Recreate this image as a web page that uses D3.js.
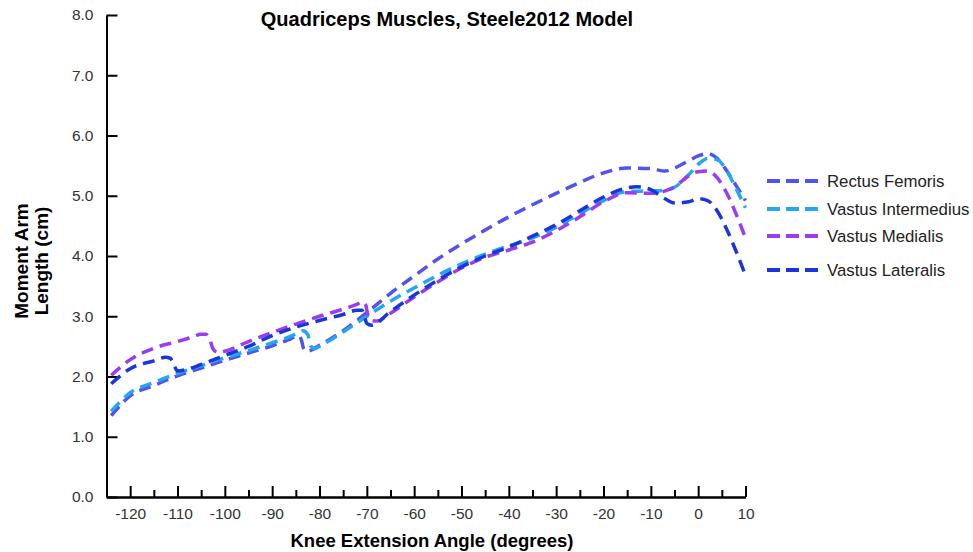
<!DOCTYPE html>
<html lang="en">
<head>
  <meta charset="UTF-8">
  <title>Quadriceps Muscles, Steele2012 Model</title>
  <script src="https://d3js.org/d3.v7.min.js"></script>
  <style>
    body { margin: 0; background: #fff; }
    svg { font-family: "Liberation Sans", Arial, sans-serif; }
    .axis path, .axis line { stroke: #000; stroke-width: 2; }
    .axis text { font-size: 15.5px; fill: #333; }
    .muscle { fill: none; stroke-width: 3.5; stroke-dasharray: 12,7; }
  </style>
</head>
<body>
  <svg width="973" height="552"></svg>

  <script>
    // knee angle (deg), moment arm (cm)
    const rectusFemoris = [
      [-124,1.35],[-120,1.68],[-115,1.85],[-110,2.01],[-105,2.14],[-100,2.27],[-95,2.39],
      [-90,2.51],[-86,2.63],[-84.5,2.68],[-83.8,2.6],[-83.3,2.45],[-82.5,2.42],[-80,2.52],
      [-75,2.76],[-70,3.06],[-65,3.38],[-60,3.67],[-55,3.95],[-50,4.2],[-45,4.43],[-40,4.65],
      [-35,4.85],[-30,5.04],[-25,5.22],[-20,5.38],[-15,5.46],[-10,5.45],[-7,5.41],[-5,5.46],
      [-2,5.58],[0,5.66],[2,5.7],[4,5.62],[6,5.42],[8,5.17],[10,4.92]
    ];
    const vastusIntermedius = [
      [-124,1.42],[-120,1.73],[-115,1.9],[-110,2.05],[-105,2.18],[-100,2.31],[-95,2.43],
      [-90,2.56],[-86,2.67],[-83.5,2.76],[-82.5,2.7],[-81.8,2.5],[-81,2.46],[-80,2.5],
      [-75,2.74],[-70,3.0],[-65,3.25],[-60,3.47],[-55,3.68],[-50,3.87],[-45,4.03],[-40,4.17],
      [-35,4.3],[-30,4.48],[-25,4.7],[-20,4.92],[-15,5.07],[-10,5.08],[-7,5.09],[-5,5.14],
      [-2,5.35],[0,5.52],[2,5.62],[4,5.6],[6,5.42],[8,5.12],[10,4.8]
    ];
    const vastusMedialis = [
      [-124,2.02],[-120,2.28],[-115,2.47],[-110,2.58],[-107,2.65],[-105,2.7],[-104,2.7],
      [-103.2,2.62],[-102.5,2.46],[-101.5,2.4],[-100,2.42],[-95,2.58],[-90,2.73],[-85,2.87],
      [-80,3.0],[-75,3.12],[-72,3.2],[-71,3.24],[-70.3,3.2],[-69.7,3.0],[-69,2.93],[-68,2.92],
      [-65,3.05],[-60,3.32],[-55,3.57],[-50,3.8],[-45,3.98],[-40,4.1],[-35,4.23],[-30,4.42],
      [-25,4.65],[-20,4.9],[-15,5.05],[-10,5.04],[-7,5.08],[-5,5.15],[-2,5.33],[0,5.4],
      [2,5.41],[4,5.3],[6,5.05],[8,4.7],[10,4.3]
    ];
    const vastusLateralis = [
      [-124,1.88],[-120,2.13],[-115,2.26],[-112.5,2.32],[-111.5,2.3],[-110.8,2.2],[-110,2.09],
      [-108,2.12],[-105,2.2],[-100,2.35],[-95,2.5],[-90,2.68],[-85,2.82],[-80,2.93],[-75,3.03],
      [-72,3.1],[-71,3.1],[-70.5,3.0],[-70,2.88],[-69,2.85],[-65,3.08],[-60,3.35],[-55,3.6],
      [-50,3.82],[-45,4.0],[-40,4.15],[-35,4.33],[-30,4.52],[-25,4.75],[-20,4.98],[-15,5.13],
      [-13,5.15],[-10,5.1],[-7,4.95],[-5,4.88],[-2,4.9],[0,4.95],[2,4.92],[4,4.75],[6,4.45],
      [8,4.08],[10,3.68]
    ];

    const muscleNames = ["Rectus Femoris", "Vastus Intermedius", "Vastus Medialis", "Vastus Lateralis"];
    const muscleData = [rectusFemoris, vastusIntermedius, vastusMedialis, vastusLateralis];
    const muscleColors = ["#5252ee", "#25a6f0", "#9a3cf0", "#1a36d8"];

    const xMajorTicks = [-120, -110, -100, -90, -80, -70, -60, -50, -40, -30, -20, -10, 0, 10];
    const xMinorTicks = [-115, -105, -95, -85, -75, -65, -55, -45, -35, -25, -15, -5, 5];
    const yTicks = [0, 1, 2, 3, 4, 5, 6, 7, 8];

    const svg = d3.select("svg");

    const x = d3.scaleLinear().domain([-125, 10]).range([106.5, 745.5]);
    const y = d3.scaleLinear().domain([0, 8]).range([497, 15]);

    // axes, ticks pointing inward
    svg.append("g")
      .attr("class", "axis")
      .attr("transform", `translate(0,${y(0)})`)
      .call(d3.axisBottom(x).tickValues(xMinorTicks).tickSize(-7).tickSizeOuter(0).tickFormat(""));

    svg.append("g")
      .attr("class", "axis")
      .attr("transform", `translate(0,${y(0)})`)
      .call(d3.axisBottom(x).tickValues(xMajorTicks).tickSize(-11).tickSizeOuter(0).tickPadding(11)
        .tickFormat(d => String(d)));

    svg.append("g")
      .attr("class", "axis")
      .attr("transform", `translate(${x(-125)},0)`)
      .call(d3.axisLeft(y).tickValues(yTicks).tickSize(-11).tickSizeOuter(0).tickPadding(13)
        .tickFormat(d3.format(".1f")));

    // curves
    const line = d3.line()
      .x(d => x(d[0]))
      .y(d => y(d[1]))
      .curve(d3.curveMonotoneX);

    svg.selectAll("path.muscle")
      .data(muscleData)
      .enter().append("path")
      .attr("class", "muscle")
      .attr("stroke", (d, i) => muscleColors[i])
      .attr("d", line);

    // titles
    svg.append("text")
      .attr("x", 447).attr("y", 26)
      .attr("text-anchor", "middle")
      .style("font-size", "20px").style("font-weight", "bold")
      .text("Quadriceps Muscles, Steele2012 Model");

    svg.append("text")
      .attr("x", 432).attr("y", 547)
      .attr("text-anchor", "middle")
      .style("font-size", "18.5px").style("font-weight", "bold")
      .text("Knee Extension Angle (degrees)");

    const yTitle = svg.append("text")
      .attr("transform", "translate(28,261) rotate(-90)")
      .attr("text-anchor", "middle")
      .style("font-size", "19px").style("font-weight", "bold");
    yTitle.append("tspan").attr("x", 0).attr("dy", 0).text("Moment Arm");
    yTitle.append("tspan").attr("x", 0).attr("dy", 20).text("Length (cm)");

    // legend
    const legendY = [181, 209, 236, 270];
    const legend = svg.selectAll("g.legend")
      .data(muscleNames)
      .enter().append("g")
      .attr("class", "legend")
      .attr("transform", (d, i) => `translate(767,${legendY[i]})`);

    legend.append("line")
      .attr("x1", 0).attr("x2", 51)
      .attr("stroke", (d, i) => muscleColors[i])
      .attr("stroke-width", 4)
      .attr("stroke-dasharray", "13,6");

    legend.append("text")
      .attr("x", 60).attr("dy", "0.35em")
      .style("font-size", "16.8px").style("fill", "#222")
      .text(d => d);
  </script>
</body>
</html>
